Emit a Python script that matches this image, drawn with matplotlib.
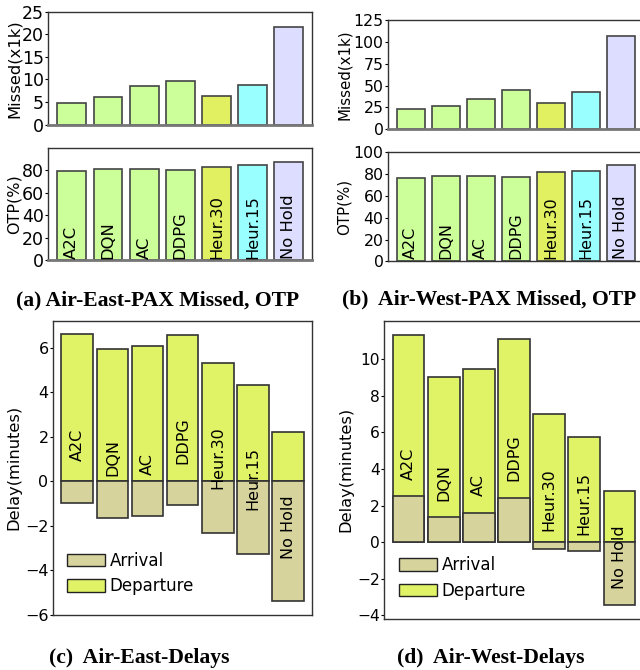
import matplotlib
matplotlib.use("Agg")
import matplotlib.pyplot as plt
from matplotlib.patches import Patch

methods = ["A2C", "DQN", "AC", "DDPG", "Heur.30", "Heur.15", "No Hold"]
bar_colors = ["#ccff99", "#ccff99", "#ccff99", "#ccff99", "#e0f060", "#99ffff", "#ddddff"]

east_missed = [4.73, 6.13, 8.5, 9.73, 6.28, 8.85, 21.55]
east_otp = [79.7, 80.9, 80.9, 80.0, 82.7, 84.4, 87.1]
west_missed = [23.6, 27.0, 35.0, 44.6, 29.7, 42.6, 106.6]
west_otp = [76.1, 78.5, 78.0, 77.1, 81.7, 82.8, 88.1]

east_departure = [6.62, 5.96, 6.06, 6.56, 5.3, 4.31, 2.2]
east_arrival = [-0.97, -1.65, -1.54, -1.05, -2.3, -3.28, -5.39]
west_departure = [11.33, 9.0, 9.47, 11.08, 7.01, 5.74, 2.79]
west_arrival = [2.53, 1.37, 1.6, 2.4, -0.37, -0.49, -3.46]

east_label_y = [1.65, 1.09, 0.79, 1.84, 1.05, 0.12, -2.05]
west_label_y = [4.3, 3.25, 3.11, 4.62, 2.34, 2.11, -0.8]

arr_color = "#d6d39c"
dep_color = "#e0f266"
edge = "#444444"

W, H = 640, 670
fig = plt.figure(figsize=(6.4, 6.7), dpi=100)


def add_ax(left, right, top, bottom):
    return fig.add_axes([left / W, 1 - bottom / H, (right - left) / W, (bottom - top) / H])


def style(ax, fs, gray_bottom=False):
    for s in ax.spines.values():
        s.set_color("#333333")
        s.set_linewidth(1.0)
    if gray_bottom:
        ax.spines["bottom"].set_color("#777777")
        ax.spines["bottom"].set_linewidth(2.0)
    ax.tick_params(axis="y", labelsize=fs, length=2, width=0.8, pad=1)
    ax.set_xticks([])


def ylab(ax, text, fs, xpix):
    ax.set_ylabel(text, fontsize=fs)
    bb = ax.get_position()
    ax.yaxis.set_label_coords((xpix / W - bb.x0) / bb.width, 0.5)


x = list(range(len(methods)))

# (a)
fs_a = 12.5
ax = add_ax(48.3, 312.3, 11.7, 124.7)
ax.bar(x, east_missed, width=0.8, color=bar_colors, edgecolor=edge, linewidth=1.2)
ax.set_xlim(-0.65, 6.65)
ax.set_ylim(0, 25)
ax.set_yticks([0, 5, 10, 15, 20, 25])
ylab(ax, "Missed(x1k)", 11.8, 22)
style(ax, fs_a, gray_bottom=True)

ax = add_ax(48.3, 312.3, 147.7, 260.3)
ax.bar(x, east_otp, width=0.8, color=bar_colors, edgecolor=edge, linewidth=1.2)
ax.set_xlim(-0.65, 6.65)
ax.set_ylim(0, 100)
ax.set_yticks([0, 20, 40, 60, 80])
ylab(ax, "OTP(%)", 11.5, 22)
style(ax, fs_a, gray_bottom=True)
for i, m in enumerate(methods):
    ax.text(i, 1.5, m, rotation=90, ha="center", va="bottom", fontsize=11.8)

# (b)
fs_b = 11.3
ax = add_ax(387.7, 644.1, 20, 129.3)
ax.bar(x, west_missed, width=0.8, color=bar_colors, edgecolor=edge, linewidth=1.2)
ax.set_xlim(-0.66, 6.66)
ax.set_ylim(0, 125)
ax.set_yticks([0, 25, 50, 75, 100, 125])
ylab(ax, "Missed(x1k)", 10.8, 351.7)
style(ax, fs_b, gray_bottom=True)

ax = add_ax(387.7, 644.1, 152.3, 261.3)
ax.bar(x, west_otp, width=0.8, color=bar_colors, edgecolor=edge, linewidth=1.2)
ax.set_xlim(-0.66, 6.66)
ax.set_ylim(0, 100)
ax.set_yticks([0, 20, 40, 60, 80, 100])
ylab(ax, "OTP(%)", 10.8, 351.7)
style(ax, fs_b)
for i, m in enumerate(methods):
    ax.text(i, 2.5, m, rotation=90, ha="center", va="bottom", fontsize=11.5)

# (c)
fs_c = 11.5
ax = add_ax(52.7, 312.3, 320.7, 615)
ax.bar(x, east_departure, width=0.9, color=dep_color, edgecolor="#333333", linewidth=1.2, label="Departure")
ax.bar(x, east_arrival, width=0.9, color=arr_color, edgecolor="#333333", linewidth=1.2, label="Arrival")
ax.set_xlim(-0.7, 6.69)
ax.set_ylim(-6, 7.21)
ax.set_yticks([-6, -4, -2, 0, 2, 4, 6])
ylab(ax, "Delay(minutes)", 11.7, 21.7)
style(ax, fs_c)
for i, m in enumerate(methods):
    ax.text(i, east_label_y[i], m, rotation=90, ha="center", va="center", fontsize=11.5)
handles = [Patch(facecolor=arr_color, edgecolor="#222222", label="Arrival"),
           Patch(facecolor=dep_color, edgecolor="#222222", label="Departure")]
ax.legend(handles=handles, loc="upper left", bbox_to_anchor=(0.055, 0.215), frameon=False,
          fontsize=12, borderpad=0, borderaxespad=0, handlelength=2.3, handleheight=0.8,
          handletextpad=0.25, labelspacing=0.45)

# (d)
ax = add_ax(384, 643.9, 320.7, 619)
ax.bar(x, west_departure, width=0.9, color=dep_color, edgecolor="#333333", linewidth=1.2, label="Departure")
ax.bar(x, west_arrival, width=0.9, color=arr_color, edgecolor="#333333", linewidth=1.2, label="Arrival")
ax.set_xlim(-0.7, 6.7)
ax.set_ylim(-4.2, 12.1)
ax.set_yticks([-4, -2, 0, 2, 4, 6, 8, 10])
ylab(ax, "Delay(minutes)", 11.7, 353.3)
style(ax, 11.2)
for i, m in enumerate(methods):
    ax.text(i, west_label_y[i], m, rotation=90, ha="center", va="center", fontsize=11.5)
ax.legend(handles=handles, loc="upper left", bbox_to_anchor=(0.058, 0.21), frameon=False,
          fontsize=12, borderpad=0, borderaxespad=0, handlelength=2.3, handleheight=0.8,
          handletextpad=0.25, labelspacing=0.45)

cap = dict(fontsize=15.6, fontweight="bold", family="Liberation Serif", ha="center", va="center")
fig.text(157.5 / W, 1 - 300 / H, "(a) Air-East-PAX Missed, OTP", **cap)
fig.text(489 / W, 1 - 299 / H, "(b)  Air-West-PAX Missed, OTP", **cap)
fig.text(139.5 / W, 1 - 657.5 / H, "(c)  Air-East-Delays", **cap)
fig.text(490.5 / W, 1 - 657.5 / H, "(d)  Air-West-Delays", **cap)

fig.savefig("out.png", dpi=100)
